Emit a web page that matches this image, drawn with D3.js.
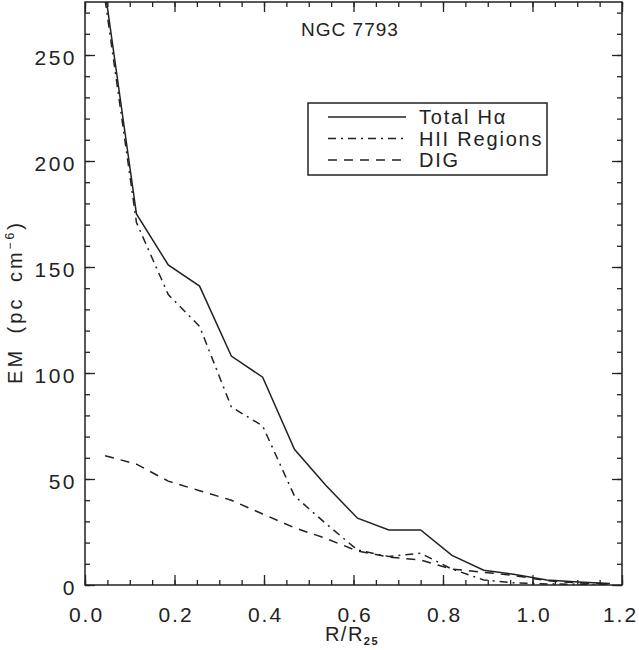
<!DOCTYPE html>
<html><head><meta charset="utf-8">
<script src="https://cdn.jsdelivr.net/npm/d3@7"></script>
<style>
body{margin:0;background:#fff;}
text{font-family:"Liberation Sans",Arial,sans-serif;fill:#222;}
</style></head>
<body>
<svg id="c" width="639" height="650"></svg>
<script>
const radius = [0.045,0.115,0.186,0.256,0.327,0.397,0.468,0.538,0.609,0.679,0.750,0.820,0.891,0.961,1.032,1.102,1.173];
const totalHa = [280,175,151,141,108,98,64,47,31.5,26,26,14,7,5,2.4,1.4,0.7];
const hiiRegions = [276,171,137,122,84,75,42,29,16.5,13.4,15,7.5,2.4,1,0.5,0.3,0.2];
const dig = [61,57,49,44.5,40,33.5,27,22,16,13.2,11.8,7.5,6,4.4,2,1,0.5];
const xTicks = [0,0.2,0.4,0.6,0.8,1.0,1.2];
const yTicks = [0,50,100,150,200,250];
const seriesNames = ["Total H\u03b1","HII Regions","DIG"];

const svg = d3.select("#c");
const m = {l:85,r:17,t:2,b:65};
const W = 639, H = 650;
const x = d3.scaleLinear().domain([0,1.2]).range([m.l, W-m.r]);
const y = d3.scaleLinear().domain([0,275]).range([H-m.b, m.t]);
const ink = "#222";

svg.append("clipPath").attr("id","clip").append("rect")
  .attr("x",m.l).attr("y",m.t).attr("width",W-m.r-m.l).attr("height",H-m.b-m.t);

const xMinor = d3.range(0,1.2001,0.05);
const yMinor = d3.range(0,275,10);

function axisStyle(g){
  g.select(".domain").remove();
  g.selectAll("line").attr("stroke",ink).attr("stroke-width",1.3);
}
svg.append("g").attr("transform",`translate(0,${y(0)})`)
  .call(d3.axisBottom(x).tickValues(xMinor).tickSize(-5).tickFormat(""))
  .call(axisStyle);
svg.append("g").attr("transform",`translate(0,${y(0)})`)
  .call(d3.axisBottom(x).tickValues(xTicks).tickSize(-10).tickPadding(22).tickFormat(d3.format(".1f")))
  .call(axisStyle)
  .call(g=>g.selectAll("text").attr("font-size",21).attr("letter-spacing","2px").attr("fill",ink)
    .attr("dx",d=>d>=1.2?"-2px":"1px"));
svg.append("g").attr("transform",`translate(0,${m.t})`)
  .call(d3.axisTop(x).tickValues(xMinor).tickSize(-5).tickFormat(""))
  .call(axisStyle);
svg.append("g").attr("transform",`translate(0,${m.t})`)
  .call(d3.axisTop(x).tickValues(xTicks).tickSize(-10).tickFormat(""))
  .call(axisStyle);
svg.append("g").attr("transform",`translate(${m.l},0)`)
  .call(d3.axisLeft(y).tickValues(yMinor).tickSize(-5).tickFormat(""))
  .call(axisStyle);
svg.append("g").attr("transform",`translate(${m.l},0)`)
  .call(d3.axisLeft(y).tickValues(yTicks).tickSize(-10).tickPadding(8).tickFormat(d3.format("d")))
  .call(axisStyle)
  .call(g=>g.selectAll("text").attr("font-size",21).attr("letter-spacing","2.5px").attr("fill",ink).attr("dy","0.45em"));
svg.append("g").attr("transform",`translate(${W-m.r},0)`)
  .call(d3.axisRight(y).tickValues(yMinor).tickSize(-5).tickFormat(""))
  .call(axisStyle);
svg.append("g").attr("transform",`translate(${W-m.r},0)`)
  .call(d3.axisRight(y).tickValues(yTicks).tickSize(-10).tickFormat(""))
  .call(axisStyle);

svg.append("rect").attr("x",m.l).attr("y",m.t).attr("width",W-m.r-m.l).attr("height",H-m.b-m.t)
  .attr("fill","none").attr("stroke",ink).attr("stroke-width",1.5);

const dashes = [null,"8,5,2,5","9,7"];
const series = [totalHa, hiiRegions, dig];
const line = d3.line().x(d=>x(d[0])).y(d=>y(d[1]));
series.forEach((s,i)=>{
  svg.append("path").datum(radius.map((r,j)=>[r,s[j]]))
    .attr("clip-path","url(#clip)")
    .attr("d",line).attr("fill","none").attr("stroke",ink).attr("stroke-width",1.5)
    .attr("stroke-dasharray",dashes[i]);
});

svg.append("text").attr("x",350).attr("y",36).attr("text-anchor","middle")
  .attr("font-size",19).attr("letter-spacing","1px").text("NGC 7793");

const lg = svg.append("g");
lg.append("rect").attr("x",308).attr("y",103).attr("width",239).attr("height",72)
  .attr("fill","none").attr("stroke",ink).attr("stroke-width",1.5);
seriesNames.forEach((n,i)=>{
  const yy = 117+i*21.5;
  lg.append("line").attr("x1",328).attr("x2",406).attr("y1",yy).attr("y2",yy)
    .attr("stroke",ink).attr("stroke-width",1.5).attr("stroke-dasharray",dashes[i]);
  lg.append("text").attr("x",419).attr("y",yy+7).attr("font-size",20).attr("letter-spacing","1.8px").text(n);
});

const xl = svg.append("text").attr("x",352).attr("y",641).attr("text-anchor","middle")
  .attr("font-size",20).attr("letter-spacing","1.5px");
xl.append("tspan").text("R/R");
xl.append("tspan").attr("font-size",11).attr("font-weight","bold").attr("dy",4).text("25");

const yl = svg.append("text").attr("transform",`translate(22,302) rotate(-90)`)
  .attr("text-anchor","middle").attr("font-size",20).attr("letter-spacing","3px")
  .attr("word-spacing","6px").attr("xml:space","preserve");
yl.append("tspan").text("EM (pc cm");
yl.append("tspan").attr("font-size",12).attr("dy",-8).text("\u22126");
yl.append("tspan").attr("dy",8).text(")");
</script>
</body></html>
